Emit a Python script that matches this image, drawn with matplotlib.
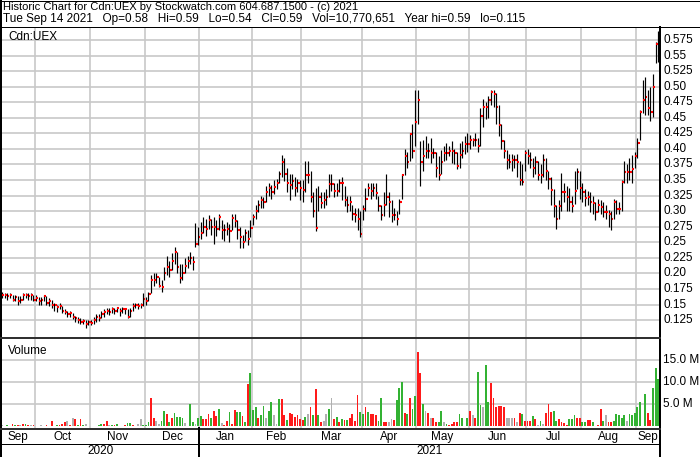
import numpy as np
import matplotlib
matplotlib.use('Agg')
import matplotlib.pyplot as plt

plt.rcParams['font.family'] = ['Liberation Sans', 'DejaVu Sans']

# trading days Sep 14 2020 .. Sep 14 2021, grouped by month
months = ['Sep', 'Oct', 'Nov', 'Dec', 'Jan', 'Feb', 'Mar', 'Apr', 'May', 'Jun', 'Jul', 'Aug', 'Sep']
days_in_month = [13, 21, 21, 21, 20, 19, 23, 21, 20, 22, 21, 21, 9]
years = ['2020', '2021']
months_per_year = [4, 9]

title1 = 'Historic Chart for Cdn:UEX by Stockwatch.com 604.687.1500 - (c) 2021'
title2 = ('Tue Sep 14 2021   Op=0.58   Hi=0.59   Lo=0.54   Cl=0.59   '
          'Vol=10,770,651   Year hi=0.59   lo=0.115')

price_ticks = [0.125, 0.15, 0.175, 0.20, 0.225, 0.25, 0.275, 0.30, 0.325, 0.35,
               0.375, 0.40, 0.425, 0.45, 0.475, 0.50, 0.525, 0.55, 0.575]
price_labels = ['0.125', '0.15', '0.175', '0.20', '0.225', '0.25', '0.275', '0.30', '0.325', '0.35',
                '0.375', '0.40', '0.425', '0.45', '0.475', '0.50', '0.525', '0.55', '0.575']
vol_ticks = [5, 10, 15]
vol_labels = ['5.0 M', '10.0 M', '15.0 M']

closes = [
    # Sep 2020
    0.165, 0.165, 0.163, 0.165, 0.158, 0.162, 0.155, 0.158, 0.165, 0.165, 0.163, 0.165, 0.158,
    # Oct
    0.160, 0.155, 0.158, 0.163, 0.152, 0.155, 0.150, 0.149, 0.146, 0.148, 0.140, 0.138, 0.134, 0.136,
    0.130, 0.128, 0.125, 0.122, 0.123, 0.119, 0.122,
    # Nov
    0.121, 0.125, 0.130, 0.128, 0.135, 0.138, 0.140, 0.138, 0.142, 0.140, 0.145, 0.140, 0.143, 0.142,
    0.130, 0.140, 0.148, 0.150, 0.147, 0.150, 0.159,
    # Dec
    0.155, 0.167, 0.190, 0.190, 0.195, 0.180, 0.178, 0.200, 0.210, 0.205, 0.220, 0.235, 0.210, 0.193,
    0.200, 0.212, 0.220, 0.225, 0.218, 0.248, 0.258,
    # Jan 2021
    0.265, 0.275, 0.272, 0.285, 0.275, 0.275, 0.272, 0.290, 0.270, 0.270, 0.272, 0.268, 0.289, 0.284,
    0.270, 0.258, 0.250, 0.265, 0.255, 0.273,
    # Feb
    0.290, 0.300, 0.310, 0.318, 0.315, 0.330, 0.338, 0.330, 0.339, 0.345, 0.360, 0.379, 0.360, 0.345,
    0.342, 0.348, 0.338, 0.345, 0.337,
    # Mar
    0.334, 0.358, 0.358, 0.323, 0.300, 0.273, 0.323, 0.313, 0.318, 0.323, 0.344, 0.344, 0.333, 0.333,
    0.345, 0.345, 0.318, 0.310, 0.314, 0.296, 0.294, 0.288, 0.264,
    # Apr
    0.303, 0.320, 0.338, 0.333, 0.338, 0.329, 0.308, 0.294, 0.310, 0.323, 0.314, 0.294, 0.294, 0.288,
    0.314, 0.358, 0.388, 0.379, 0.424, 0.397, 0.444,
    # May
    0.479, 0.379, 0.388, 0.397, 0.397, 0.394, 0.394, 0.369, 0.358, 0.379, 0.394, 0.394, 0.397, 0.397,
    0.394, 0.373, 0.390, 0.397, 0.408, 0.408,
    # Jun
    0.414, 0.414, 0.414, 0.404, 0.453, 0.468, 0.468, 0.479, 0.492, 0.488, 0.468, 0.438, 0.413, 0.397,
    0.382, 0.379, 0.382, 0.382, 0.379, 0.350, 0.347, 0.394,
    # Jul
    0.389, 0.382, 0.369, 0.379, 0.358, 0.358, 0.382, 0.365, 0.351, 0.334, 0.308, 0.287, 0.308, 0.330,
    0.330, 0.323, 0.315, 0.308, 0.333, 0.363, 0.337,
    # Aug
    0.330, 0.321, 0.323, 0.315, 0.313, 0.299, 0.310, 0.307, 0.299, 0.299, 0.295, 0.287, 0.314, 0.303,
    0.303, 0.347, 0.363, 0.363, 0.363, 0.367, 0.388,
    # Sep 2021
    0.409, 0.459, 0.479, 0.484, 0.466, 0.459, 0.500, 0.568, 0.590,
]

highs = [
    0.170, 0.168, 0.168, 0.168, 0.165, 0.165, 0.163, 0.163, 0.168, 0.168, 0.168, 0.168, 0.165,
    0.165, 0.162, 0.162, 0.165, 0.163, 0.160, 0.158, 0.153, 0.150, 0.152, 0.148, 0.142, 0.140, 0.140,
    0.136, 0.132, 0.130, 0.128, 0.126, 0.125, 0.125,
    0.125, 0.130, 0.135, 0.135, 0.140, 0.142, 0.145, 0.145, 0.146, 0.145, 0.146, 0.145, 0.146, 0.145,
    0.142, 0.145, 0.152, 0.153, 0.152, 0.153, 0.168,
    0.162, 0.170, 0.197, 0.200, 0.200, 0.195, 0.190, 0.210, 0.228, 0.220, 0.232, 0.242, 0.235, 0.215,
    0.215, 0.225, 0.228, 0.235, 0.228, 0.281, 0.275,
    0.282, 0.290, 0.288, 0.294, 0.288, 0.290, 0.285, 0.295, 0.285, 0.280, 0.282, 0.280, 0.295, 0.295,
    0.285, 0.275, 0.262, 0.272, 0.270, 0.285,
    0.295, 0.310, 0.318, 0.325, 0.322, 0.340, 0.345, 0.342, 0.350, 0.352, 0.365, 0.390, 0.385, 0.370,
    0.360, 0.360, 0.355, 0.352, 0.350,
    0.350, 0.380, 0.380, 0.365, 0.330, 0.338, 0.340, 0.330, 0.330, 0.335, 0.360, 0.360, 0.345, 0.345,
    0.352, 0.355, 0.340, 0.325, 0.325, 0.310, 0.305, 0.305, 0.300,
    0.310, 0.338, 0.345, 0.345, 0.345, 0.345, 0.325, 0.310, 0.330, 0.360, 0.330, 0.318, 0.305, 0.300,
    0.320, 0.360, 0.400, 0.395, 0.425, 0.440, 0.495,
    0.495, 0.412, 0.415, 0.420, 0.410, 0.418, 0.402, 0.395, 0.388, 0.398, 0.405, 0.410, 0.405, 0.412,
    0.400, 0.395, 0.410, 0.412, 0.420, 0.425,
    0.422, 0.418, 0.425, 0.418, 0.465, 0.480, 0.475, 0.485, 0.495, 0.495, 0.490, 0.470, 0.440, 0.415,
    0.398, 0.392, 0.392, 0.390, 0.392, 0.380, 0.375, 0.398,
    0.400, 0.395, 0.385, 0.388, 0.380, 0.375, 0.392, 0.385, 0.365, 0.355, 0.335, 0.310, 0.318, 0.362,
    0.345, 0.340, 0.338, 0.325, 0.365, 0.370, 0.365,
    0.345, 0.335, 0.332, 0.330, 0.325, 0.315, 0.320, 0.318, 0.315, 0.310, 0.302, 0.300, 0.320, 0.318,
    0.315, 0.350, 0.380, 0.375, 0.385, 0.390, 0.395,
    0.418, 0.462, 0.510, 0.515, 0.495, 0.500, 0.520, 0.572, 0.590,
]

lows = [
    0.160, 0.160, 0.158, 0.160, 0.155, 0.155, 0.150, 0.152, 0.158, 0.160, 0.158, 0.158, 0.155,
    0.155, 0.150, 0.150, 0.155, 0.150, 0.148, 0.145, 0.140, 0.138, 0.142, 0.136, 0.134, 0.130, 0.130,
    0.126, 0.122, 0.120, 0.118, 0.118, 0.113, 0.117,
    0.117, 0.118, 0.122, 0.124, 0.128, 0.130, 0.135, 0.133, 0.136, 0.135, 0.138, 0.132, 0.136, 0.135,
    0.128, 0.130, 0.140, 0.145, 0.143, 0.145, 0.148,
    0.150, 0.155, 0.168, 0.180, 0.185, 0.178, 0.170, 0.190, 0.198, 0.195, 0.205, 0.215, 0.200, 0.185,
    0.190, 0.200, 0.208, 0.215, 0.205, 0.243, 0.245,
    0.255, 0.265, 0.260, 0.272, 0.262, 0.248, 0.260, 0.270, 0.255, 0.252, 0.262, 0.250, 0.270, 0.275,
    0.255, 0.240, 0.240, 0.252, 0.245, 0.258,
    0.278, 0.288, 0.298, 0.305, 0.305, 0.315, 0.325, 0.320, 0.328, 0.335, 0.345, 0.355, 0.348, 0.330,
    0.318, 0.335, 0.325, 0.330, 0.318,
    0.315, 0.330, 0.345, 0.315, 0.290, 0.268, 0.300, 0.305, 0.305, 0.310, 0.322, 0.333, 0.322, 0.325,
    0.330, 0.318, 0.308, 0.298, 0.300, 0.285, 0.282, 0.270, 0.258,
    0.285, 0.300, 0.325, 0.320, 0.325, 0.320, 0.300, 0.285, 0.292, 0.310, 0.290, 0.282, 0.285, 0.278,
    0.295, 0.320, 0.358, 0.370, 0.380, 0.385, 0.405,
    0.440, 0.340, 0.365, 0.385, 0.385, 0.378, 0.385, 0.355, 0.350, 0.360, 0.380, 0.382, 0.388, 0.378,
    0.375, 0.368, 0.370, 0.385, 0.392, 0.395,
    0.400, 0.405, 0.405, 0.395, 0.405, 0.435, 0.448, 0.450, 0.470, 0.468, 0.440, 0.420, 0.400, 0.385,
    0.368, 0.370, 0.365, 0.370, 0.355, 0.342, 0.342, 0.365,
    0.375, 0.370, 0.355, 0.360, 0.350, 0.345, 0.355, 0.350, 0.335, 0.310, 0.290, 0.272, 0.288, 0.300,
    0.315, 0.300, 0.300, 0.298, 0.312, 0.335, 0.320,
    0.315, 0.308, 0.310, 0.298, 0.295, 0.285, 0.298, 0.295, 0.290, 0.288, 0.275, 0.270, 0.288, 0.295,
    0.295, 0.300, 0.345, 0.345, 0.350, 0.345, 0.370,
    0.385, 0.415, 0.458, 0.455, 0.455, 0.445, 0.452, 0.538, 0.540,
]

# volume in millions of shares, colour: g = up, r = down, n = unchanged
volumes = [
    0.3, 0.2, 0.3, 0.2, 0.6, 0.4, 0.3, 0.4, 0.5, 0.5, 0.4, 0.3, 0.4,
    0.2, 0.1, 0.3, 0.2, 0.3, 0.2, 1.3, 0.2, 0.3, 0.4, 0.6, 0.9, 1.2, 0.4, 1.8, 1.7, 0.3, 1.6, 0.4, 0.5, 0.2,
    0.1, 0.2, 0.1, 0.3, 0.5, 0.5, 1.2, 0.3, 0.3, 0.3, 0.5, 0.1, 0.1, 0.4, 0.8, 0.8, 0.4, 0.2, 0.6, 1.6, 0.4,
    0.3, 1.1, 6.3, 1.8, 1.2, 0.6, 1.2, 3.5, 2.9, 1.0, 2.0, 3.1, 2.2, 2.2, 2.0, 0.7, 0.1, 5.0, 1.1, 0.5, 1.9,
    2.4, 1.6, 1.6, 2.7, 1.8, 3.4, 2.3, 4.0, 0.8, 0.3, 1.2, 3.3, 0.6, 3.7, 3.2, 3.2, 2.4, 1.0, 9.5, 12.0,
    3.7, 4.3, 2.0, 2.6, 4.5, 2.0, 3.5, 5.5, 2.6, 0.5, 6.2, 6.2, 2.6, 1.4, 3.0, 2.8, 2.1, 2.6, 1.6,
    1.5, 2.2, 2.8, 4.4, 2.6, 8.5, 2.6, 1.1, 1.3, 2.8, 4.0, 6.5, 1.6, 2.2, 1.1, 1.6, 1.5, 1.5, 1.9, 2.7,
    1.2, 7.0, 3.3,
    2.9, 4.4, 3.2, 2.9, 2.9, 2.6, 1.2, 6.3, 1.1, 1.1, 1.0, 1.6, 1.5, 5.9, 8.7, 10.1, 3.0, 2.9, 6.3, 3.9, 6.8,
    16.7, 12.1, 5.0, 3.4, 3.1, 2.0, 2.0, 1.0, 1.0, 3.5, 1.0, 0.6, 0.4, 0.6, 1.0, 1.0, 2.7, 2.0, 0.2, 2.0,
    3.4, 2.6, 2.0, 12.2, 4.8, 4.3, 13.9, 5.5, 9.8, 6.3, 4.3, 4.5, 4.5, 4.3, 2.0, 1.8, 1.8, 2.0, 1.0, 3.1,
    2.9, 1.2,
    1.2, 1.2, 2.4, 1.6, 0.4, 1.2, 0.5, 3.0, 5.0, 3.3, 3.5, 1.2, 1.6, 0.9, 0.7, 0.4, 1.6, 1.6, 2.6, 2.0, 2.0,
    0.9, 0.9, 1.4, 1.4, 0.9, 0.2, 0.3, 3.9, 1.2, 2.5, 0.9, 0.9, 1.2, 2.9, 2.5, 2.0, 2.5, 1.2, 2.7, 2.5, 3.0,
    4.3, 5.5, 0.2, 7.4, 3.0, 1.4, 8.6, 13.1, 10.7,
]
vol_dirs = (
    'nngnrgrnrgrnr'
    'ngngrnrngrrrnrnrgrgnn'
    'nnnggrrngrgnnrggrgnng'
    'ggrrnnggrgrggggngggng'
    'grrrgrrgnrrgrrggrgrg'
    'ggrggnggnngrrgrrrrr'
    'rgnrgrgrnngnrgrgrgrrrrg'
    'grgrrrggrrnnrgggrgrgg'
    'rrgnrnrrggngrrrrggng'
    'rnrggnggrrrrrrnnnrnrgr'
    'rrgrngnrrrggrrrrgggrr'
    'ggrrgrrrgnrrgggggnggg'
    'ggngrrggg'
)

# ---- layout helpers (pixel boxes on a 700x457 canvas)
W, H = 700, 457
fig = plt.figure(figsize=(W / 100, H / 100), dpi=100)


def box(l, t, r, b):
    ax = fig.add_axes([l / W, 1 - b / H, (r - l) / W, (b - t) / H])
    for s in ax.spines.values():
        s.set_visible(False)
    ax.set_xticks([])
    ax.set_yticks([])
    return ax


grid_c = '#c8c8c8'
n_days = len(closes)
idx = np.arange(n_days)
xlim = (-0.4, n_days - 0.7)
starts = np.cumsum([0] + days_in_month)
bounds = starts[1:-1] - 0.5

# ---- price panel
ax = box(1, 27, 659, 337)
ax.set_xlim(*xlim)
ax.set_ylim(0.0978, 0.5959)
for b in bounds:
    ax.axvline(b, color=grid_c, lw=1.2, zorder=0)
for p in price_ticks:
    ax.axhline(p, color=grid_c, lw=1.2, zorder=0)
ax.vlines(idx, lows, highs, color='black', lw=0.85, zorder=2)
ax.hlines(closes, idx + 0.15, idx + 0.85, color='#ff0000', lw=1.5, zorder=3)
ax.text(0.011, 0.988, 'Cdn:UEX', transform=ax.transAxes, fontsize=8.5, va='top')
for p, lab in zip(price_ticks, price_labels):
    ax.text(1.0065, p, lab, transform=ax.get_yaxis_transform(), fontsize=8.5,
            va='center', ha='left', clip_on=False)

# ---- volume panel
vax = box(1, 338.5, 659, 427.5)
vax.set_xlim(*xlim)
vax.set_ylim(-0.25, 19.8)
for b in bounds:
    vax.axvline(b, color=grid_c, lw=1.2, zorder=0)
for v in vol_ticks:
    vax.axhline(v, color=grid_c, lw=1.2, zorder=0)
col_map = {'g': '#33b233', 'r': '#ff1a1a', 'n': '#b0b0b0'}
vax.bar(idx, volumes, width=0.7, color=[col_map[c] for c in vol_dirs], zorder=2)
vax.text(0.011, 0.93, 'Volume', transform=vax.transAxes, fontsize=8.5, va='top')
for v, lab in zip(vol_ticks, vol_labels):
    vax.text(1.0065, v, lab, transform=vax.get_yaxis_transform(), fontsize=8.5,
             va='center', ha='left', clip_on=False)

# ---- month and year rows
max_ = box(1, 429, 659, 443)
max_.set_xlim(*xlim)
max_.set_ylim(0, 1)
for m, s, d in zip(months, starts[:-1], days_in_month):
    max_.text(s - 0.5 + d / 2, 0.45, m, ha='center', va='center', fontsize=8.5)

yax = box(1, 443, 659, 457)
yax.set_xlim(*xlim)
yax.set_ylim(0, 1)
ystarts = np.cumsum([0] + months_per_year)
for y, a, b in zip(years, ystarts[:-1], ystarts[1:]):
    left = starts[a] - 0.5
    right = min(starts[b] - 0.5, xlim[1])
    yax.text((left + right) / 2, 0.45, y, ha='center', va='center', fontsize=8.5)
sep = starts[ystarts[1]] - 0.5

# ---- frame lines drawn on a full-canvas overlay
ov = fig.add_axes([0, 0, 1, 1], zorder=10)
ov.set_xlim(0, W)
ov.set_ylim(H, 0)
ov.axis('off')
ov.patch.set_alpha(0)
px = 0.72
ov.plot([0.5, 699.5, 699.5, 0.5, 0.5], [0.5, 0.5, 456.5, 456.5, 0.5], color='black', lw=px)
ov.plot([1, 1], [0, 457], color='black', lw=2 * px)
ov.plot([0, 700], [26.5, 26.5], color='black', lw=px)
ov.plot([659.5, 659.5], [26.5, 457], color='black', lw=2 * px)
ov.plot([0, 659.5], [337.5, 337.5], color='#303030', lw=2 * px)
ov.plot([0, 659.5], [428.5, 428.5], color='#303030', lw=2 * px)
ov.plot([0, 659.5], [443.5, 443.5], color='black', lw=px)
sep_px = 1 + (sep - xlim[0]) / (xlim[1] - xlim[0]) * 658
ov.plot([sep_px, sep_px], [428, 457], color='black', lw=2 * px)

fig.text(3 / W, 1 - 7.5 / H, title1, fontsize=8, va='center', ha='left')
fig.text(3 / W, 1 - 19 / H, title2, fontsize=8.5, va='center', ha='left')

fig.savefig('out.png', dpi=100)
